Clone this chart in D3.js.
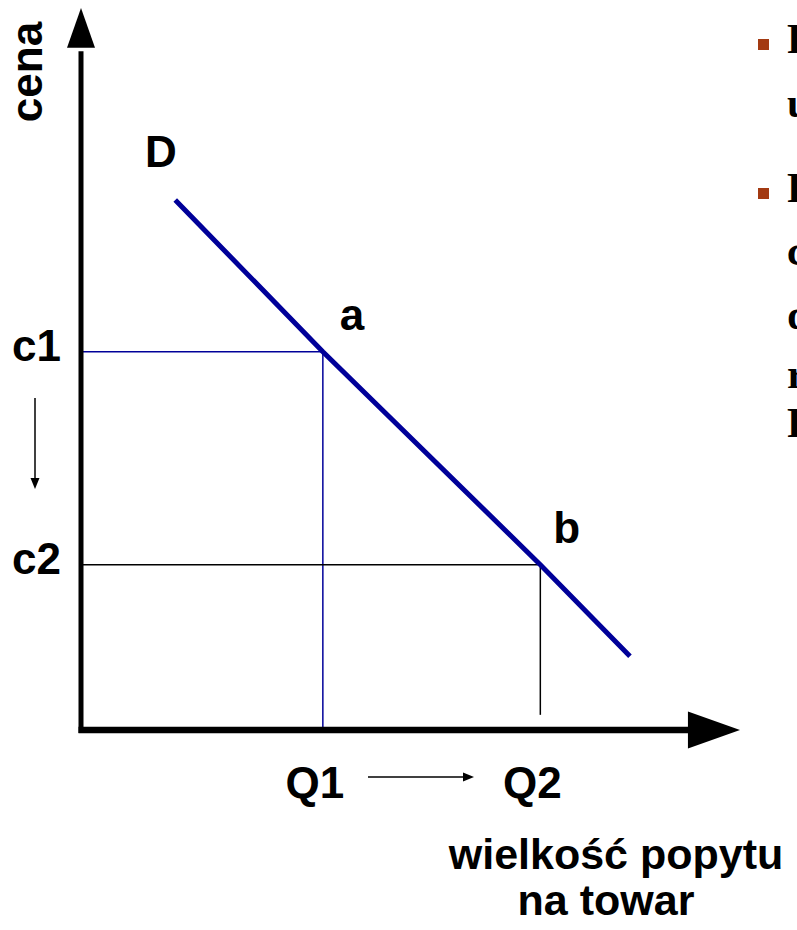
<!DOCTYPE html>
<html>
<head>
<meta charset="utf-8">
<script src="https://cdn.jsdelivr.net/npm/d3@7"></script>
<style>
  html, body { margin: 0; padding: 0; background: #fff; overflow: hidden; }
  text { font-family: "Liberation Sans", Arial, sans-serif; font-weight: bold; fill: #000; }
</style>
</head>
<body>
<svg id="chart"></svg>
<script>
// demand curve D (quantity, price)
const demandQ = [14.3, 36.7, 69.7, 83.3];
const demandP = [73.4, 52.4, 22.9, 10.2];

// the two marked points on the curve
const pointNames = ["a", "b"];
const pointQ = [36.7, 69.7];
const pointP = [52.4, 22.9];
const pointColors = ["#000099", "#000000"];
const dropLineEnd = [0, 2.1]; // b's drop line stops short of the axis

const priceLabels = ["c1", "c2"];
const quantityLabels = ["Q1", "Q2"];
const axisTitle = ["wielkość popytu", "na towar"];

// bullet text on the right, cut off at the edge of the slide
const bulletLines = [
  ["Prawo popytu:", "ujemna zależność"],
  ["Przy spadku", "ceny z c1", "do c2", "rośnie", "Popyt"]
];

const width = 797;
const height = 930;
const origin = { x: 81, y: 730 };

const svg = d3.select("svg#chart")
  .attr("width", width)
  .attr("height", height);

//scales
const xScale = d3.scaleLinear().domain([0, 100]).range([origin.x, 740]);
const yScale = d3.scaleLinear().domain([0, 100]).range([origin.y, 8]);

// guide lines from the axes to a and b
pointQ.forEach((q, i) => {
  const g = svg.append("g").attr("class", "guide");
  g.append("line")
    .attr("x1", xScale(0) + 2).attr("x2", xScale(q))
    .attr("y1", yScale(pointP[i])).attr("y2", yScale(pointP[i]))
    .style("stroke", pointColors[i]).style("stroke-width", 1.5);
  g.append("line")
    .attr("x1", xScale(q)).attr("x2", xScale(q))
    .attr("y1", yScale(pointP[i])).attr("y2", yScale(dropLineEnd[i]))
    .style("stroke", pointColors[i]).style("stroke-width", 1.5);
});

// demand line
const demand = demandQ.map((q, i) => [q, demandP[i]]);
svg.append("path")
  .datum(demand)
  .attr("d", d3.line().x(d => xScale(d[0])).y(d => yScale(d[1])))
  .style("fill", "none")
  .style("stroke", "#000099")
  .style("stroke-width", 5);

//axes with big arrow heads
svg.append("line")
  .attr("x1", xScale(0)).attr("x2", xScale(0))
  .attr("y1", yScale(0) + 3).attr("y2", yScale(94))
  .style("stroke", "#000").style("stroke-width", 5);
svg.append("path")
  .attr("d", "M" + xScale(0) + "," + yScale(100) +
    "L" + (xScale(0) + 14) + "," + yScale(94.5) +
    "L" + (xScale(0) - 14) + "," + yScale(94.5) + "Z")
  .style("fill", "#000");

svg.append("line")
  .attr("x1", xScale(0) - 2.5).attr("x2", xScale(93))
  .attr("y1", yScale(0)).attr("y2", yScale(0))
  .style("stroke", "#000").style("stroke-width", 6.5);
svg.append("path")
  .attr("d", "M" + xScale(100) + "," + yScale(0) +
    "L" + xScale(92.1) + "," + (yScale(0) - 18.5) +
    "L" + xScale(92.1) + "," + (yScale(0) + 18.5) + "Z")
  .style("fill", "#000");

// small arrows showing the move c1 -> c2 and Q1 -> Q2
function smallArrow(x1, y1, x2, y2) {
  const ang = Math.atan2(y2 - y1, x2 - x1);
  const len = 11, half = 4.5;
  const bx = x2 - len * Math.cos(ang), by = y2 - len * Math.sin(ang);
  svg.append("line")
    .attr("x1", x1).attr("y1", y1).attr("x2", bx).attr("y2", by)
    .style("stroke", "#000").style("stroke-width", 1.5);
  svg.append("path")
    .attr("d", "M" + x2 + "," + y2 +
      "L" + (bx - half * Math.sin(ang)) + "," + (by + half * Math.cos(ang)) +
      "L" + (bx + half * Math.sin(ang)) + "," + (by - half * Math.cos(ang)) + "Z")
    .style("fill", "#000");
}
smallArrow(35, 398, 35, 489);
smallArrow(368, 777, 474, 777);

//labels
const fs = 44;
svg.append("text")
  .attr("transform", "translate(42, 72) rotate(-90)")
  .attr("text-anchor", "middle")
  .style("font-size", fs + "px")
  .text("cena");

svg.append("text")
  .attr("x", 145).attr("y", 167)
  .style("font-size", fs + "px")
  .text("D");

svg.selectAll("text.point")
  .data(pointNames)
  .enter()
  .append("text")
  .attr("class", "point")
  .attr("x", (d, i) => xScale(pointQ[i]) + (i == 0 ? 17 : 13))
  .attr("y", (d, i) => yScale(pointP[i]) - 22)
  .style("font-size", fs + "px")
  .text(d => d);

svg.selectAll("text.price")
  .data(priceLabels)
  .enter()
  .append("text")
  .attr("class", "price")
  .attr("x", 12)
  .attr("y", (d, i) => yScale(pointP[i]) + 9)
  .style("font-size", fs + "px")
  .text(d => d);

svg.selectAll("text.qty")
  .data(quantityLabels)
  .enter()
  .append("text")
  .attr("class", "qty")
  .attr("x", (d, i) => xScale(pointQ[i]) - 8)
  .attr("y", 798)
  .attr("text-anchor", "middle")
  .style("font-size", fs + "px")
  .text(d => d);

// x axis title, two lines
const titleX = [616, 606];
const titleY = [869, 915];
svg.selectAll("text.title")
  .data(axisTitle)
  .enter()
  .append("text")
  .attr("class", "title")
  .attr("x", (d, i) => titleX[i])
  .attr("y", (d, i) => titleY[i])
  .attr("text-anchor", "middle")
  .style("font-size", "43px")
  .text(d => d);

// right column, mostly off the slide
const bulletBaselines = [[53, 117], [202, 265, 329, 388, 437]];
const bulletTop = [39, 188];
bulletLines.forEach((lines, b) => {
  svg.append("rect")
    .attr("x", 758).attr("y", bulletTop[b])
    .attr("width", 11).attr("height", 11)
    .style("fill", "#A33A12");
  lines.forEach((t, j) => {
    svg.append("text")
      .attr("x", 787)
      .attr("y", bulletBaselines[b][j])
      .style("font-family", "'Liberation Serif', 'Times New Roman', serif")
      .style("font-size", "42px")
      .text(t);
  });
});
</script>
</body>
</html>
